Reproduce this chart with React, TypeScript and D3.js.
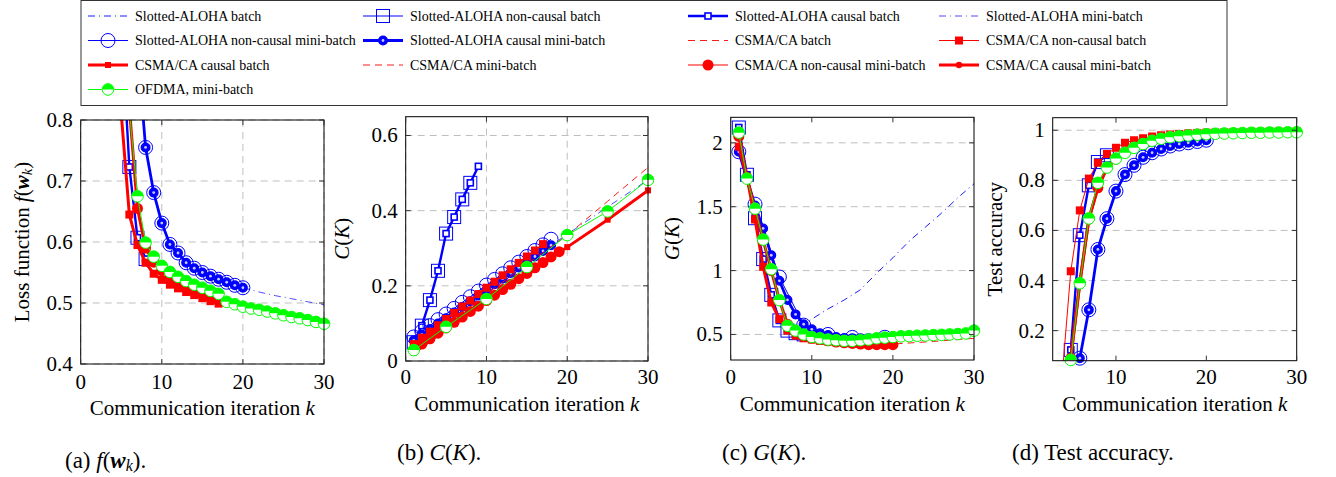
import React from "react";
import * as d3 from "d3";

const FONT = "'Liberation Serif', 'Times New Roman', Times, serif";
const BLUE = "#0000ff";
const RED = "#ff0000";
const GREEN = "#00ff00";
const GRID = "#bfbfbf";

// communication iterations k
const iterations = [1, 2, 3, 4, 5, 6, 7, 8, 9, 10, 11, 12, 13, 14, 15, 16, 17, 18, 19, 20, 21, 22, 23, 24, 25, 26, 27, 28, 29, 30];
const span = (a: number, b: number) => iterations.filter((k) => k >= a && k <= b);

// legend
const legendIds = [
  "saBatch", "saNcBatch", "saCBatch", "saMini",
  "saNcMini", "saCMini", "csBatch", "csNcBatch",
  "csCBatch", "csMini", "csNcMini", "csCMini",
  "ofdma",
];
const legendLabels = [
  "Slotted-ALOHA batch", "Slotted-ALOHA non-causal batch", "Slotted-ALOHA causal batch", "Slotted-ALOHA mini-batch",
  "Slotted-ALOHA non-causal mini-batch", "Slotted-ALOHA causal mini-batch", "CSMA/CA batch", "CSMA/CA non-causal batch",
  "CSMA/CA causal batch", "CSMA/CA mini-batch", "CSMA/CA non-causal mini-batch", "CSMA/CA causal mini-batch",
  "OFDMA, mini-batch",
];

// (a) loss function f(w_k)
const lossSaBatchK = [5, 6, 7, 8];
const lossSaBatch = [0.96, 0.723, 0.607, 0.572];
const lossSaMiniK = [7, 8, 9, 10, 11, 12, 13, 14, 15, 16, 17, 18, 19, 20, 22, 24, 26, 28, 30];
const lossSaMini = [0.92, 0.755, 0.681, 0.631, 0.596, 0.582, 0.566, 0.557, 0.55, 0.544, 0.539, 0.534, 0.529, 0.525, 0.518, 0.512, 0.507, 0.502, 0.497];
const lossSaCMini = [0.92, 0.755, 0.681, 0.631, 0.596, 0.582, 0.566, 0.557, 0.55, 0.544, 0.539, 0.534, 0.529, 0.525];
const lossCsBatch = [0.81, 0.645, 0.595, 0.566, 0.548, 0.538, 0.53, 0.524, 0.518, 0.513, 0.508, 0.503, 0.499];
const lossCsMini = [0.98, 0.82, 0.655, 0.59, 0.567, 0.553, 0.543, 0.535, 0.528, 0.522, 0.517, 0.512, 0.508];
const lossOfdma = [0.815, 0.675, 0.599, 0.576, 0.561, 0.551, 0.543, 0.536, 0.53, 0.525, 0.52, 0.515, 0.502, 0.498, 0.494, 0.491, 0.489, 0.486, 0.483, 0.48, 0.477, 0.475, 0.472, 0.469, 0.466];

// (b) C(K)
const capSaBatch = [0.05, 0.094, 0.162, 0.24, 0.339, 0.383, 0.43, 0.474, 0.518];
const capSparseK = [1, 5, 10, 15, 20, 25, 30];
const capSaMini = [0.055, 0.114, 0.189, 0.263, 0.337, 0.41, 0.482];
const capSaNcMini = [0.064, 0.079, 0.094, 0.11, 0.125, 0.14, 0.156, 0.171, 0.186, 0.202, 0.217, 0.232, 0.248, 0.263, 0.278, 0.294, 0.309, 0.324];
const capSaCMini = [0.055, 0.07, 0.085, 0.1, 0.114, 0.129, 0.144, 0.159, 0.174, 0.189, 0.204, 0.219, 0.234, 0.249, 0.263, 0.278, 0.293, 0.308];
const capCsBatch = [0.03, 0.1, 0.178, 0.258, 0.335, 0.425, 0.515];
const capCsNcBatch = [0.045, 0.062, 0.078, 0.095, 0.112, 0.128, 0.145, 0.161, 0.178, 0.195, 0.211, 0.228, 0.244, 0.261, 0.278, 0.294, 0.311];
const capCsCBatch = [0.022, 0.085, 0.158, 0.23, 0.303, 0.376, 0.454];
const capCsMini = [0.03, 0.045, 0.059, 0.074, 0.088, 0.103, 0.117, 0.132, 0.146, 0.161, 0.175, 0.19, 0.204, 0.219, 0.233, 0.248, 0.262, 0.277, 0.291];
const capOfdma = [0.029, 0.091, 0.165, 0.25, 0.335, 0.398, 0.482];

// (c) G(K)
const gSaNcBatch = [2.12, 1.75, 1.41, 1.09, 0.81, 0.61, 0.53, 0.51, 0.5];
const gSaCBatch = [2.12, 1.75, 1.41, 1.09, 0.81, 0.61, 0.53, 0.51, 0.5, 0.49, 0.485, 0.48, 0.475, 0.47, 0.47, 0.47, 0.475, 0.475, 0.478, 0.48];
const gSaBatchK = [1, 2, 3, 4, 5, 6, 7, 8, 9, 10, 12, 14, 16, 18, 20, 22, 24, 26, 28, 30];
const gSaBatch = [2.12, 1.75, 1.41, 1.09, 0.81, 0.61, 0.53, 0.54, 0.58, 0.62, 0.7, 0.77, 0.85, 0.98, 1.1, 1.23, 1.34, 1.45, 1.57, 1.68];
const gSaNcMiniK = [1, 3, 6, 9, 12, 15, 19];
const gSaNcMini = [1.93, 1.52, 0.95, 0.573, 0.5, 0.477, 0.478];
const gSaCMini = [1.93, 1.72, 1.51, 1.33, 1.12, 0.92, 0.77, 0.657, 0.58, 0.54, 0.51, 0.495, 0.48, 0.472, 0.47, 0.47, 0.47, 0.473, 0.476, 0.48];
const gCsDashK = [10, 15, 20, 25, 30];
const gCsDash = [0.46, 0.43, 0.425, 0.445, 0.47];
const gCsBatch = [1.97, 1.73, 1.4, 1.03, 0.75, 0.62, 0.53, 0.49, 0.47, 0.46, 0.45, 0.445, 0.44, 0.435, 0.43, 0.43, 0.425, 0.425, 0.425, 0.425];
const gCsMini = [2.05, 1.73, 1.48, 1.24, 1.0, 0.77, 0.58, 0.53, 0.49, 0.47, 0.46, 0.45, 0.44, 0.435, 0.43, 0.425, 0.42, 0.42, 0.42, 0.42];
const gOfdma = [2.08, 1.72, 1.485, 1.243, 1.011, 0.769, 0.568, 0.53, 0.5, 0.48, 0.47, 0.46, 0.455, 0.45, 0.45, 0.455, 0.46, 0.47, 0.475, 0.48, 0.485, 0.487, 0.49, 0.492, 0.495, 0.497, 0.5, 0.503, 0.508, 0.53];

// (d) test accuracy
const accSaBatch = [0.0, 0.123, 0.581, 0.78, 0.873, 0.9];
const accSaMini = [0.0, 0.09, 0.283, 0.524, 0.647, 0.757, 0.823, 0.86, 0.892, 0.91, 0.925, 0.937, 0.945, 0.95, 0.955, 0.96];
const accCsNcBatch = [0.0, 0.437, 0.68, 0.807, 0.87, 0.905, 0.93, 0.95, 0.96, 0.968, 0.975, 0.98, 0.983, 0.985, 0.987, 0.989, 0.99, 0.991, 0.992, 0.993, 0.993, 0.994, 0.994, 0.995, 0.995, 0.995, 0.996];
const accCsMini = [0.09, 0.39, 0.645, 0.77, 0.85, 0.885, 0.915, 0.935, 0.95, 0.96, 0.97, 0.975, 0.98, 0.983, 0.985, 0.987];
const accOfdma = [0.083, 0.389, 0.648, 0.79, 0.851, 0.887, 0.91, 0.93, 0.945, 0.958, 0.966, 0.972, 0.976, 0.979, 0.982, 0.984, 0.986, 0.987, 0.988, 0.989, 0.99, 0.99, 0.991, 0.991, 0.992, 0.992];

type MarkType = "none" | "bigSquare" | "smallSquare" | "bigCircle" | "ringCircle" | "fillSquare" | "smallFillSquare" | "fillCircle" | "smallFillCircle" | "half";
interface Style { color: string; width: number; dash?: string; mark: MarkType }

const styles: Record<string, Style> = {
  saBatch: { color: BLUE, width: 0.9, dash: "7 4 1 4", mark: "none" },
  saNcBatch: { color: BLUE, width: 1, mark: "bigSquare" },
  saCBatch: { color: BLUE, width: 2.4, mark: "smallSquare" },
  saMini: { color: "#3a3aff", width: 0.9, dash: "7 4 1 4", mark: "none" },
  saNcMini: { color: BLUE, width: 1, mark: "bigCircle" },
  saCMini: { color: BLUE, width: 2.8, mark: "ringCircle" },
  csBatch: { color: RED, width: 0.9, dash: "7 5", mark: "none" },
  csNcBatch: { color: RED, width: 1, mark: "fillSquare" },
  csCBatch: { color: RED, width: 3, mark: "smallFillSquare" },
  csMini: { color: RED, width: 0.9, dash: "7 5", mark: "none" },
  csNcMini: { color: RED, width: 1, mark: "fillCircle" },
  csCMini: { color: RED, width: 3, mark: "smallFillCircle" },
  ofdma: { color: GREEN, width: 1, mark: "half" },
};

function Mark({ type, color, x, y }: { type: MarkType; color: string; x: number; y: number }) {
  switch (type) {
    case "bigSquare":
      return <rect x={x - 6.5} y={y - 6.5} width={13} height={13} fill="none" stroke={color} strokeWidth={1} />;
    case "smallSquare":
      return <rect x={x - 3} y={y - 3} width={6} height={6} fill="white" stroke={color} strokeWidth={1.6} />;
    case "bigCircle":
      return <circle cx={x} cy={y} r={7} fill="none" stroke={color} strokeWidth={1} />;
    case "ringCircle":
      return (
        <g>
          <circle cx={x} cy={y} r={4.3} fill={color} stroke={color} strokeWidth={1.4} />
          <circle cx={x} cy={y} r={1.4} fill="#c8c8ff" />
        </g>
      );
    case "fillSquare":
      return <rect x={x - 4} y={y - 4} width={8} height={8} fill={color} />;
    case "smallFillSquare":
      return <rect x={x - 3} y={y - 3} width={6} height={6} fill={color} />;
    case "fillCircle":
      return <circle cx={x} cy={y} r={5.5} fill={color} />;
    case "smallFillCircle":
      return <circle cx={x} cy={y} r={3.2} fill={color} />;
    case "half": {
      const r = 5.8;
      return (
        <g>
          <circle cx={x} cy={y} r={r} fill="white" />
          <path d={`M${x - r},${y} A${r},${r} 0 0 1 ${x + r},${y} Z`} fill={color} />
          <circle cx={x} cy={y} r={r} fill="none" stroke={color} strokeWidth={1} />
        </g>
      );
    }
    default:
      return null;
  }
}

interface Series { id: string; k: number[]; v: number[] }
interface PanelSpec {
  id: string;
  left: number; right: number; top: number; bottom: number;
  xDomain: [number, number]; yDomain: [number, number];
  xTicks: number[]; yTicks: number[];
  xGrid: boolean;
  series: Series[];
  yLabel: React.ReactNode; yLabelX: number;
  xTickY: number; xTitleY: number;
  caption: React.ReactNode; captionX: number; captionY: number;
}

const It = ({ children }: { children: React.ReactNode }) => <tspan fontStyle="italic">{children}</tspan>;

const fw = (
  <>
    <It>f</It>(<tspan fontStyle="italic" fontWeight="bold">w</tspan>
    <tspan fontStyle="italic" fontSize="70%" dy={5}>k</tspan>
    <tspan dy={-5}>)</tspan>
  </>
);

const panels: PanelSpec[] = [
  {
    id: "a", left: 80.7, right: 324, top: 120, bottom: 364,
    xDomain: [0, 30], yDomain: [0.4, 0.8],
    xTicks: [0, 10, 20, 30], yTicks: [0.4, 0.5, 0.6, 0.7, 0.8], xGrid: true,
    series: [
      { id: "saBatch", k: lossSaBatchK, v: lossSaBatch },
      { id: "saNcBatch", k: lossSaBatchK, v: lossSaBatch },
      { id: "saCBatch", k: lossSaBatchK, v: lossSaBatch },
      { id: "saMini", k: lossSaMiniK, v: lossSaMini },
      { id: "saNcMini", k: span(7, 20), v: lossSaCMini },
      { id: "saCMini", k: span(7, 20), v: lossSaCMini },
      { id: "csBatch", k: span(5, 17), v: lossCsBatch },
      { id: "csNcBatch", k: span(5, 17), v: lossCsBatch },
      { id: "csCBatch", k: span(5, 17), v: lossCsBatch },
      { id: "csMini", k: span(5, 17), v: lossCsMini },
      { id: "csNcMini", k: span(5, 17), v: lossCsMini },
      { id: "csCMini", k: span(5, 17), v: lossCsMini },
      { id: "ofdma", k: span(6, 30), v: lossOfdma },
    ],
    yLabel: <>Loss function {fw}</>, yLabelX: 22,
    xTickY: 382, xTitleY: 408,
    caption: <>(a) {fw}.</>, captionX: 65, captionY: 460,
  },
  {
    id: "b", left: 405.7, right: 648, top: 116.7, bottom: 361,
    xDomain: [0, 30], yDomain: [0, 0.65],
    xTicks: [0, 10, 20, 30], yTicks: [0, 0.2, 0.4, 0.6], xGrid: true,
    series: [
      { id: "saMini", k: capSparseK, v: capSaMini },
      { id: "saNcBatch", k: span(1, 8), v: capSaBatch.slice(0, 8) },
      { id: "saCBatch", k: span(1, 9), v: capSaBatch },
      { id: "saNcMini", k: span(1, 18), v: capSaNcMini },
      { id: "saCMini", k: span(1, 18), v: capSaCMini },
      { id: "csBatch", k: capSparseK, v: capCsBatch },
      { id: "csNcBatch", k: span(1, 17), v: capCsNcBatch },
      { id: "csCBatch", k: capSparseK, v: capCsCBatch },
      { id: "csNcMini", k: span(1, 19), v: capCsMini },
      { id: "csCMini", k: span(1, 19), v: capCsMini },
      { id: "ofdma", k: capSparseK, v: capOfdma },
    ],
    yLabel: <><It>C</It>(<It>K</It>)</>, yLabelX: 341.7,
    xTickY: 377, xTitleY: 404,
    caption: <>(b) <It>C</It>(<It>K</It>).</>, captionX: 397, captionY: 452,
  },
  {
    id: "c", left: 730.7, right: 974, top: 117.3, bottom: 360,
    xDomain: [0, 30], yDomain: [0.3, 2.2],
    xTicks: [0, 10, 20, 30], yTicks: [0.5, 1, 1.5, 2], xGrid: false,
    series: [
      { id: "saBatch", k: gSaBatchK, v: gSaBatch },
      { id: "saNcBatch", k: span(1, 9), v: gSaNcBatch },
      { id: "saCBatch", k: span(1, 20), v: gSaCBatch },
      { id: "saNcMini", k: gSaNcMiniK, v: gSaNcMini },
      { id: "saCMini", k: span(1, 20), v: gSaCMini },
      { id: "csBatch", k: gCsDashK, v: gCsDash },
      { id: "csNcBatch", k: span(1, 20), v: gCsBatch },
      { id: "csCBatch", k: span(1, 20), v: gCsBatch },
      { id: "csNcMini", k: span(1, 20), v: gCsMini },
      { id: "csCMini", k: span(1, 20), v: gCsMini },
      { id: "ofdma", k: span(1, 30), v: gOfdma },
    ],
    yLabel: <><It>G</It>(<It>K</It>)</>, yLabelX: 671.7,
    xTickY: 377, xTitleY: 404,
    caption: <>(c) <It>G</It>(<It>K</It>).</>, captionX: 722, captionY: 452,
  },
  {
    id: "d", left: 1052.7, right: 1296.7, top: 117.7, bottom: 360.7,
    xDomain: [3, 30], yDomain: [0.08, 1.05],
    xTicks: [10, 20, 30], yTicks: [0.2, 0.4, 0.6, 0.8, 1], xGrid: false,
    series: [
      { id: "saNcBatch", k: span(4, 9), v: accSaBatch },
      { id: "saCBatch", k: span(4, 9), v: accSaBatch },
      { id: "saNcMini", k: span(5, 20), v: accSaMini },
      { id: "saCMini", k: span(5, 20), v: accSaMini },
      { id: "csNcBatch", k: span(4, 30), v: accCsNcBatch },
      { id: "csCBatch", k: span(5, 20), v: accCsMini },
      { id: "csNcMini", k: span(5, 20), v: accCsMini },
      { id: "csCMini", k: span(5, 20), v: accCsMini },
      { id: "ofdma", k: span(5, 30), v: accOfdma },
    ],
    yLabel: <>Test accuracy</>, yLabelX: 995,
    xTickY: 377, xTitleY: 404,
    caption: <>(d) Test accuracy.</>, captionX: 1012, captionY: 452,
  },
];

function Panel({ p }: { p: PanelSpec }) {
  const x = d3.scaleLinear().domain(p.xDomain).range([p.left, p.right]);
  const y = d3.scaleLinear().domain(p.yDomain).range([p.bottom, p.top]);
  const line = d3.line<[number, number]>().x((d) => x(d[0])).y((d) => y(d[1]));
  const clipId = `clip-${p.id}`;
  const inside = (d: [number, number]) =>
    d[0] >= p.xDomain[0] - 1e-6 && d[0] <= p.xDomain[1] + 1e-6 && d[1] >= p.yDomain[0] - 1e-6 && d[1] <= p.yDomain[1] + 1e-6;
  const midY = (p.top + p.bottom) / 2;
  const midX = (p.left + p.right) / 2;
  return (
    <g>
      <defs>
        <clipPath id={clipId}>
          <rect x={p.left} y={p.top} width={p.right - p.left} height={p.bottom - p.top} />
        </clipPath>
      </defs>
      {p.xGrid && p.xTicks.map((t) => (
        <line key={`gx${t}`} x1={x(t)} x2={x(t)} y1={p.top} y2={p.bottom} stroke={GRID} strokeDasharray="7 5" />
      ))}
      {p.yTicks.map((t) => (
        <line key={`gy${t}`} x1={p.left} x2={p.right} y1={y(t)} y2={y(t)} stroke={GRID} strokeDasharray="7 5" />
      ))}
      {p.series.map((s, i) => {
        const st = styles[s.id];
        const pts = s.k.map((k, j) => [k, s.v[j]] as [number, number]);
        return (
          <g key={i}>
            <path d={line(pts) ?? ""} clipPath={`url(#${clipId})`} fill="none" stroke={st.color}
              strokeWidth={st.width} strokeDasharray={st.dash} strokeLinejoin="round" />
            {st.mark !== "none" && pts.filter(inside).map((d, j) => (
              <Mark key={j} type={st.mark} color={st.color} x={x(d[0])} y={y(d[1])} />
            ))}
          </g>
        );
      })}
      <rect x={p.left} y={p.top} width={p.right - p.left} height={p.bottom - p.top} fill="none" stroke="#000" strokeWidth={1} />
      {p.xTicks.map((t) => (
        <g key={`tx${t}`}>
          <line x1={x(t)} x2={x(t)} y1={p.bottom} y2={p.bottom - 5} stroke="#333" />
          <line x1={x(t)} x2={x(t)} y1={p.top} y2={p.top + 5} stroke="#333" />
          <text x={x(t)} y={p.xTickY} textAnchor="middle" dominantBaseline="central" fontSize={21}>{String(t)}</text>
        </g>
      ))}
      {p.yTicks.map((t) => (
        <g key={`ty${t}`}>
          <line x1={p.left} x2={p.left + 5} y1={y(t)} y2={y(t)} stroke="#333" />
          <line x1={p.right} x2={p.right - 5} y1={y(t)} y2={y(t)} stroke="#333" />
          <text x={p.left - 8} y={y(t)} textAnchor="end" dominantBaseline="central" fontSize={21}>{String(t)}</text>
        </g>
      ))}
      <text transform={`translate(${p.yLabelX},${midY}) rotate(-90)`} textAnchor="middle" dominantBaseline="central" fontSize={21}>
        {p.yLabel}
      </text>
      <text x={midX} y={p.xTitleY} textAnchor="middle" dominantBaseline="central" fontSize={21}>
        Communication iteration <It>k</It>
      </text>
      <text x={p.captionX} y={p.captionY} dominantBaseline="central" fontSize={23}>{p.caption}</text>
    </g>
  );
}

function Legend() {
  const sampleX = [88, 363, 688, 939];
  const textX = [135, 410, 735, 986];
  const rowY = [16, 40.5, 65, 89.5];
  return (
    <g>
      <rect x={81} y={0.5} width={1146} height={105} fill="white" stroke="#333" strokeWidth={1} />
      {legendIds.map((id, i) => {
        const st = styles[id];
        const col = i % 4;
        const row = Math.floor(i / 4);
        const x0 = sampleX[col];
        const yy = rowY[row];
        return (
          <g key={id}>
            <line x1={x0} x2={x0 + 40} y1={yy} y2={yy} stroke={st.color} strokeWidth={st.width} strokeDasharray={st.dash} />
            <Mark type={st.mark} color={st.color} x={x0 + 20} y={yy} />
            <text x={textX[col]} y={yy} dominantBaseline="central" fontSize={14}>{legendLabels[i]}</text>
          </g>
        );
      })}
    </g>
  );
}

export default function App() {
  return (
    <svg width={1336} height={477} style={{ position: "absolute", left: 0, top: 0, background: "white" }}
      fontFamily={FONT} fill="#000">
      <rect width={1336} height={477} fill="white" />
      <Legend />
      {panels.map((p) => <Panel key={p.id} p={p} />)}
    </svg>
  );
}
